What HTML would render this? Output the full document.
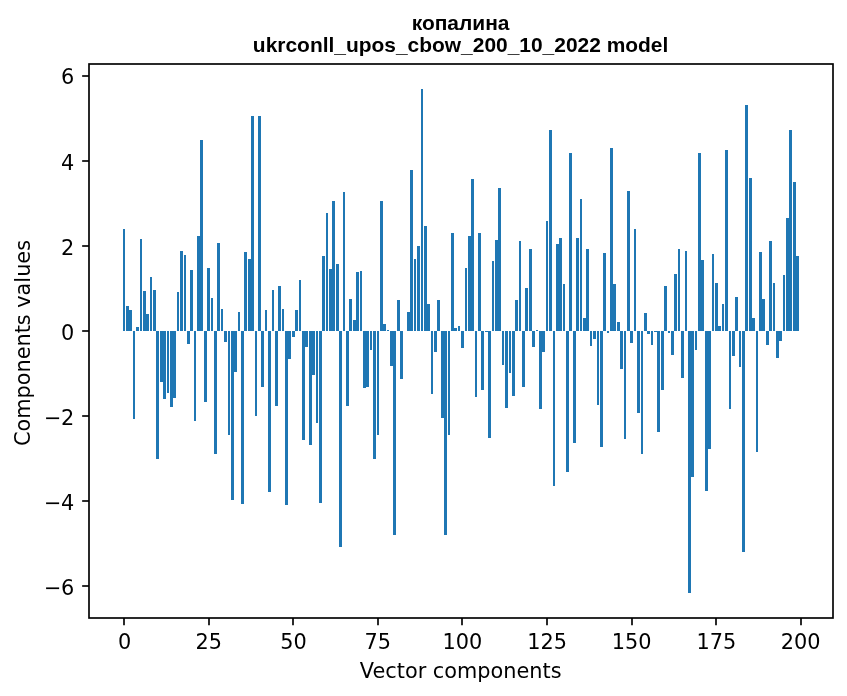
<!DOCTYPE html>
<html lang="uk"><head><meta charset="utf-8"><title>копалина</title>
<style>
html,body{margin:0;padding:0;background:#fff;}
body{width:847px;height:696px;overflow:hidden;}
svg{display:block;}
</style></head><body>
<svg width="847" height="696" viewBox="0 0 847 696">
<rect width="847" height="696" fill="#fff"/>
<g fill="#1f77b4" shape-rendering="crispEdges"><rect x="123" y="229" width="2" height="102"/><rect x="126" y="306" width="3" height="25"/><rect x="129" y="310" width="3" height="21"/><rect x="133" y="331" width="2" height="88"/><rect x="136" y="327" width="3" height="4"/><rect x="140" y="239" width="2" height="92"/><rect x="143" y="291" width="3" height="40"/><rect x="146" y="314" width="3" height="17"/><rect x="150" y="277" width="2" height="54"/><rect x="153" y="290" width="3" height="41"/><rect x="156" y="331" width="3" height="128"/><rect x="160" y="331" width="3" height="51"/><rect x="163" y="331" width="3" height="68"/><rect x="167" y="331" width="2" height="62"/><rect x="170" y="331" width="3" height="76"/><rect x="173" y="331" width="3" height="67"/><rect x="177" y="292" width="2" height="39"/><rect x="180" y="251" width="3" height="80"/><rect x="184" y="255" width="2" height="76"/><rect x="187" y="331" width="3" height="13"/><rect x="190" y="270" width="3" height="61"/><rect x="194" y="331" width="2" height="90"/><rect x="197" y="236" width="3" height="95"/><rect x="200" y="140" width="3" height="191"/><rect x="204" y="331" width="3" height="71"/><rect x="207" y="268" width="3" height="63"/><rect x="211" y="298" width="2" height="33"/><rect x="214" y="331" width="3" height="123"/><rect x="217" y="243" width="3" height="88"/><rect x="221" y="309" width="2" height="22"/><rect x="224" y="331" width="3" height="11"/><rect x="228" y="331" width="2" height="104"/><rect x="231" y="331" width="3" height="169"/><rect x="234" y="331" width="3" height="41"/><rect x="238" y="312" width="2" height="19"/><rect x="241" y="331" width="3" height="173"/><rect x="244" y="252" width="3" height="79"/><rect x="248" y="259" width="3" height="72"/><rect x="251" y="116" width="3" height="215"/><rect x="255" y="331" width="2" height="85"/><rect x="258" y="116" width="3" height="215"/><rect x="261" y="331" width="3" height="56"/><rect x="265" y="310" width="2" height="21"/><rect x="268" y="331" width="3" height="161"/><rect x="272" y="290" width="2" height="41"/><rect x="275" y="331" width="3" height="75"/><rect x="278" y="286" width="3" height="45"/><rect x="282" y="309" width="2" height="22"/><rect x="285" y="331" width="3" height="174"/><rect x="288" y="331" width="3" height="28"/><rect x="292" y="331" width="3" height="6"/><rect x="295" y="310" width="3" height="21"/><rect x="299" y="280" width="2" height="51"/><rect x="302" y="331" width="3" height="109"/><rect x="305" y="331" width="3" height="16"/><rect x="309" y="331" width="3" height="114"/><rect x="312" y="331" width="3" height="44"/><rect x="316" y="331" width="2" height="92"/><rect x="319" y="331" width="3" height="172"/><rect x="322" y="256" width="3" height="75"/><rect x="326" y="213" width="2" height="118"/><rect x="329" y="269" width="3" height="62"/><rect x="332" y="201" width="3" height="130"/><rect x="336" y="264" width="3" height="67"/><rect x="339" y="331" width="3" height="216"/><rect x="343" y="192" width="2" height="139"/><rect x="346" y="331" width="3" height="75"/><rect x="349" y="299" width="3" height="32"/><rect x="353" y="320" width="3" height="11"/><rect x="356" y="272" width="3" height="59"/><rect x="360" y="271" width="2" height="60"/><rect x="363" y="331" width="3" height="57"/><rect x="366" y="331" width="3" height="56"/><rect x="370" y="331" width="2" height="19"/><rect x="373" y="331" width="3" height="128"/><rect x="377" y="331" width="2" height="104"/><rect x="380" y="201" width="3" height="130"/><rect x="383" y="324" width="3" height="7"/><rect x="387" y="330" width="2" height="1"/><rect x="390" y="331" width="3" height="35"/><rect x="393" y="331" width="3" height="204"/><rect x="397" y="300" width="3" height="31"/><rect x="400" y="331" width="3" height="48"/><rect x="407" y="312" width="3" height="19"/><rect x="410" y="170" width="3" height="161"/><rect x="414" y="259" width="2" height="72"/><rect x="417" y="246" width="3" height="85"/><rect x="421" y="89" width="2" height="242"/><rect x="424" y="226" width="3" height="105"/><rect x="427" y="304" width="3" height="27"/><rect x="431" y="331" width="2" height="63"/><rect x="434" y="331" width="3" height="21"/><rect x="437" y="300" width="3" height="31"/><rect x="441" y="331" width="3" height="87"/><rect x="444" y="331" width="3" height="204"/><rect x="448" y="331" width="2" height="104"/><rect x="451" y="233" width="3" height="98"/><rect x="454" y="328" width="3" height="3"/><rect x="458" y="326" width="2" height="5"/><rect x="461" y="331" width="3" height="17"/><rect x="465" y="268" width="2" height="63"/><rect x="468" y="236" width="3" height="95"/><rect x="471" y="179" width="3" height="152"/><rect x="475" y="331" width="2" height="66"/><rect x="478" y="233" width="3" height="98"/><rect x="481" y="331" width="3" height="59"/><rect x="485" y="331" width="3" height="1"/><rect x="488" y="331" width="3" height="107"/><rect x="492" y="261" width="2" height="70"/><rect x="495" y="240" width="3" height="91"/><rect x="498" y="188" width="3" height="143"/><rect x="502" y="331" width="2" height="34"/><rect x="505" y="331" width="3" height="77"/><rect x="509" y="331" width="2" height="42"/><rect x="512" y="331" width="3" height="65"/><rect x="515" y="300" width="3" height="31"/><rect x="519" y="241" width="2" height="90"/><rect x="522" y="331" width="3" height="56"/><rect x="525" y="288" width="3" height="43"/><rect x="529" y="249" width="3" height="82"/><rect x="532" y="331" width="3" height="16"/><rect x="536" y="330" width="2" height="1"/><rect x="539" y="331" width="3" height="78"/><rect x="542" y="331" width="3" height="21"/><rect x="546" y="221" width="2" height="110"/><rect x="549" y="130" width="3" height="201"/><rect x="553" y="331" width="2" height="155"/><rect x="556" y="244" width="3" height="87"/><rect x="559" y="238" width="3" height="93"/><rect x="563" y="284" width="2" height="47"/><rect x="566" y="331" width="3" height="141"/><rect x="569" y="153" width="3" height="178"/><rect x="573" y="331" width="3" height="112"/><rect x="576" y="238" width="3" height="93"/><rect x="580" y="199" width="2" height="132"/><rect x="583" y="318" width="3" height="13"/><rect x="586" y="249" width="3" height="82"/><rect x="590" y="331" width="2" height="15"/><rect x="593" y="331" width="3" height="8"/><rect x="597" y="331" width="2" height="74"/><rect x="600" y="331" width="3" height="116"/><rect x="603" y="253" width="3" height="78"/><rect x="607" y="331" width="2" height="2"/><rect x="610" y="148" width="3" height="183"/><rect x="613" y="284" width="3" height="47"/><rect x="617" y="322" width="3" height="9"/><rect x="620" y="331" width="3" height="38"/><rect x="624" y="331" width="2" height="108"/><rect x="627" y="191" width="3" height="140"/><rect x="630" y="331" width="3" height="12"/><rect x="634" y="229" width="2" height="102"/><rect x="637" y="331" width="3" height="82"/><rect x="641" y="331" width="2" height="123"/><rect x="644" y="313" width="3" height="18"/><rect x="647" y="331" width="3" height="3"/><rect x="651" y="331" width="2" height="14"/><rect x="654" y="331" width="3" height="1"/><rect x="657" y="331" width="3" height="101"/><rect x="661" y="331" width="3" height="59"/><rect x="664" y="286" width="3" height="45"/><rect x="668" y="331" width="2" height="2"/><rect x="671" y="331" width="3" height="24"/><rect x="674" y="274" width="3" height="57"/><rect x="678" y="249" width="2" height="82"/><rect x="681" y="331" width="3" height="47"/><rect x="685" y="251" width="2" height="80"/><rect x="688" y="331" width="3" height="262"/><rect x="691" y="331" width="3" height="146"/><rect x="695" y="331" width="2" height="19"/><rect x="698" y="153" width="3" height="178"/><rect x="701" y="260" width="3" height="71"/><rect x="705" y="331" width="3" height="160"/><rect x="708" y="331" width="3" height="118"/><rect x="712" y="254" width="2" height="77"/><rect x="715" y="283" width="3" height="48"/><rect x="718" y="326" width="3" height="5"/><rect x="722" y="304" width="2" height="27"/><rect x="725" y="150" width="3" height="181"/><rect x="729" y="331" width="2" height="78"/><rect x="732" y="331" width="3" height="25"/><rect x="735" y="297" width="3" height="34"/><rect x="739" y="331" width="2" height="36"/><rect x="742" y="331" width="3" height="221"/><rect x="745" y="105" width="3" height="226"/><rect x="749" y="178" width="3" height="153"/><rect x="752" y="318" width="3" height="13"/><rect x="756" y="331" width="2" height="121"/><rect x="759" y="252" width="3" height="79"/><rect x="762" y="299" width="3" height="32"/><rect x="766" y="331" width="3" height="14"/><rect x="769" y="241" width="3" height="90"/><rect x="773" y="283" width="2" height="48"/><rect x="776" y="331" width="3" height="27"/><rect x="779" y="331" width="3" height="10"/><rect x="783" y="275" width="2" height="56"/><rect x="786" y="218" width="3" height="113"/><rect x="789" y="130" width="3" height="201"/><rect x="793" y="182" width="3" height="149"/><rect x="796" y="256" width="3" height="75"/></g>
<g stroke="#000" stroke-width="1.67"><line x1="124.00" y1="618" x2="124.00" y2="625.30"/><line x1="209.00" y1="618" x2="209.00" y2="625.30"/><line x1="293.00" y1="618" x2="293.00" y2="625.30"/><line x1="378.00" y1="618" x2="378.00" y2="625.30"/><line x1="462.00" y1="618" x2="462.00" y2="625.30"/><line x1="547.00" y1="618" x2="547.00" y2="625.30"/><line x1="632.00" y1="618" x2="632.00" y2="625.30"/><line x1="716.00" y1="618" x2="716.00" y2="625.30"/><line x1="801.00" y1="618" x2="801.00" y2="625.30"/><line x1="89" y1="76.00" x2="82.15" y2="76.00"/><line x1="89" y1="161.00" x2="82.15" y2="161.00"/><line x1="89" y1="246.00" x2="82.15" y2="246.00"/><line x1="89" y1="331.00" x2="82.15" y2="331.00"/><line x1="89" y1="416.00" x2="82.15" y2="416.00"/><line x1="89" y1="501.00" x2="82.15" y2="501.00"/><line x1="89" y1="586.00" x2="82.15" y2="586.00"/></g>
<rect x="89" y="64" width="744" height="554" fill="none" stroke="#000" stroke-width="1.67"/>
<g font-family="'DejaVu Sans', 'Liberation Sans', sans-serif" font-size="20.83px" fill="#000"><text x="124.66" y="649.4" text-anchor="middle">0</text><text x="208.69" y="649.4" text-anchor="middle">25</text><text x="293.52" y="649.4" text-anchor="middle">50</text><text x="377.85" y="649.4" text-anchor="middle">75</text><text x="462.48" y="649.4" text-anchor="middle">100</text><text x="547.12" y="649.4" text-anchor="middle">125</text><text x="631.75" y="649.4" text-anchor="middle">150</text><text x="716.38" y="649.4" text-anchor="middle">175</text><text x="800.61" y="649.4" text-anchor="middle">200</text><text x="74.2" y="83.75" text-anchor="end">6</text><text x="74.2" y="169.80" text-anchor="end">4</text><text x="74.2" y="254.80" text-anchor="end">2</text><text x="74.2" y="339.80" text-anchor="end">0</text><text x="74.2" y="424.80" text-anchor="end">−<tspan dx="-0.5">2</tspan></text><text x="74.2" y="509.80" text-anchor="end">−<tspan dx="-0.5">4</tspan></text><text x="74.2" y="594.80" text-anchor="end">−<tspan dx="-0.5">6</tspan></text><text x="460.7" y="677.8" text-anchor="middle">Vector components</text><text transform="translate(29.85,343.05) rotate(-90)" text-anchor="middle">Components values</text></g>
<g font-family="'Liberation Sans', Arial, sans-serif" font-weight="bold" font-size="20.95px" fill="#000" text-anchor="middle"><text x="460.6" y="29.8">копалина</text><text x="460.6" y="51.5">ukrconll_upos_cbow_200_10_2022 model</text></g>
</svg>
</body></html>
